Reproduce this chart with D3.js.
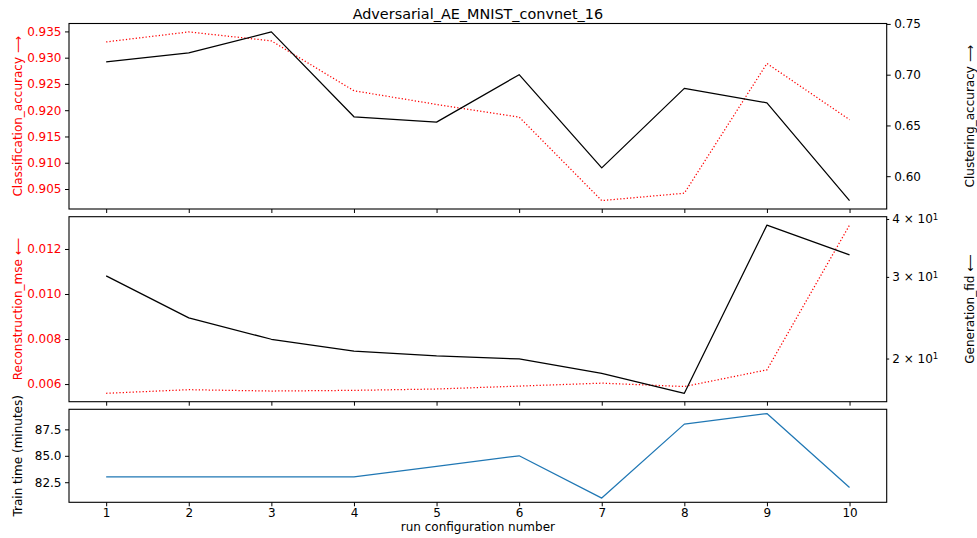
<!DOCTYPE html>
<html>
<head>
<meta charset="utf-8">
<script src="https://cdn.jsdelivr.net/npm/d3@7"></script>
<style>
  html, body { margin: 0; padding: 0; background: #fff; }
  svg { display: block; font-family: "DejaVu Sans", sans-serif; }
</style>
</head>
<body>
<svg id="chart" width="977" height="538"></svg>
<script>
// ---------------- data ----------------
const runNumbers = [1, 2, 3, 4, 5, 6, 7, 8, 9, 10];
const classificationAccuracy = [0.9330, 0.9349, 0.9332, 0.9237, 0.9211, 0.9187, 0.9028, 0.9042, 0.9289, 0.9182];
const clusteringAccuracy = [0.7125, 0.7214, 0.7421, 0.6585, 0.6533, 0.7000, 0.6082, 0.6865, 0.6723, 0.5760];
const reconstructionMse = [0.00559, 0.00575, 0.00569, 0.00572, 0.00578, 0.00591, 0.00604, 0.00589, 0.00663, 0.01306];
const generationFid = [30.15, 24.48, 22.01, 20.76, 20.26, 19.96, 18.58, 16.83, 38.8, 33.47];
const trainTime = [83, 83, 83, 83, 84, 85, 81, 88, 89, 82];

const xTicks = [1, 2, 3, 4, 5, 6, 7, 8, 9, 10];
const classTicks = [0.905, 0.910, 0.915, 0.920, 0.925, 0.930, 0.935];
const clusterTicks = [0.60, 0.65, 0.70, 0.75];
const mseTicks = [0.006, 0.008, 0.010, 0.012];
const fidTicks = [20, 30, 40];
const timeTicks = [82.5, 85.0, 87.5];

const titleText = "Adversarial_AE_MNIST_convnet_16";
const xLabelText = "run configuration number";

// ---------------- layout ----------------
const svg = d3.select("#chart");
const left = 69, right = 886.7;
const panels = [
  { top: 23.5, bottom: 209 },
  { top: 216.7, bottom: 401.7 },
  { top: 409.3, bottom: 502.3 }
];
const FS = 12;
const RED = "#ff0000";

function padDomain(vals) {
  const mn = d3.min(vals), mx = d3.max(vals), r = mx - mn;
  return [mn - 0.05 * r, mx + 0.05 * r];
}
function padLogDomain(vals) {
  const lv = vals.map(Math.log10);
  const [a, b] = padDomain(lv);
  return [Math.pow(10, a), Math.pow(10, b)];
}

const x = d3.scaleLinear().domain(padDomain(runNumbers)).range([left, right]);

const yClass = d3.scaleLinear().domain(padDomain(classificationAccuracy)).range([panels[0].bottom, panels[0].top]);
const yCluster = d3.scaleLinear().domain(padDomain(clusteringAccuracy)).range([panels[0].bottom, panels[0].top]);
const yMse = d3.scaleLinear().domain(padDomain(reconstructionMse)).range([panels[1].bottom, panels[1].top]);
const yFid = d3.scaleLog().domain(padLogDomain(generationFid)).range([panels[1].bottom, panels[1].top]);
const yTime = d3.scaleLinear().domain(padDomain(trainTime)).range([panels[2].bottom, panels[2].top]);

function styleAxis(g, labelColor) {
  g.select(".domain").remove();
  g.selectAll(".tick line").attr("stroke", "#000").attr("stroke-width", 1);
  g.selectAll(".tick text").attr("fill", labelColor).attr("font-size", FS).attr("font-family", "DejaVu Sans");
}

// ---------------- series lines ----------------
function drawLine(values, yScale, color, dashed, width) {
  const line = d3.line().x((d, i) => x(runNumbers[i])).y(d => yScale(d));
  svg.append("path")
    .datum(values)
    .attr("d", line)
    .attr("fill", "none")
    .attr("stroke", color)
    .attr("stroke-width", width)
    .attr("stroke-linejoin", "round")
    .attr("stroke-dasharray", dashed ? "1.25,2.06" : null);
}

// Panel 1
drawLine(classificationAccuracy, yClass, RED, true, 1.25);
drawLine(clusteringAccuracy, yCluster, "#000", false, 1.25);
// Panel 2
drawLine(reconstructionMse, yMse, RED, true, 1.25);
drawLine(generationFid, yFid, "#000", false, 1.25);
// Panel 3
drawLine(trainTime, yTime, "#1f77b4", false, 1.25);

// ---------------- spines ----------------
panels.forEach(p => {
  svg.append("rect")
    .attr("x", left).attr("y", p.top)
    .attr("width", right - left).attr("height", p.bottom - p.top)
    .attr("fill", "none").attr("stroke", "#000").attr("stroke-width", 1.1);
});

// ---------------- axes ----------------
// x axes (ticks in all panels, labels only on the bottom)
panels.forEach((p, i) => {
  const ax = d3.axisBottom(x).tickValues(xTicks).tickSize(4).tickSizeOuter(0).tickPadding(2.5)
    .tickFormat(i === 2 ? d3.format("d") : () => "");
  const g = svg.append("g").attr("transform", `translate(0,${p.bottom})`).call(ax);
  styleAxis(g, "#000");
});

// Panel 1 axes
styleAxis(svg.append("g").attr("transform", `translate(${left},0)`)
  .call(d3.axisLeft(yClass).tickValues(classTicks).tickFormat(d3.format(".3f")).tickSize(4).tickPadding(3.5)), RED);
styleAxis(svg.append("g").attr("transform", `translate(${right},0)`)
  .call(d3.axisRight(yCluster).tickValues(clusterTicks).tickFormat(d3.format(".2f")).tickSize(4).tickPadding(3.5)), "#000");

// Panel 2 axes
styleAxis(svg.append("g").attr("transform", `translate(${left},0)`)
  .call(d3.axisLeft(yMse).tickValues(mseTicks).tickFormat(d3.format(".3f")).tickSize(4).tickPadding(3.5)), RED);
const gFid = svg.append("g").attr("transform", `translate(${right},0)`)
  .call(d3.axisRight(yFid).tickValues(fidTicks).tickFormat(d => String(d)).tickSize(2.5).tickPadding(3));
styleAxis(gFid, "#000");
gFid.selectAll(".tick text").each(function (d) {
  const e = Math.floor(Math.log10(d));
  const m = Math.round(d / Math.pow(10, e));
  const t = d3.select(this);
  t.text(null);
  t.append("tspan").text(`${m} × 10`);
  t.append("tspan").attr("dy", "-0.42em").attr("font-size", "0.72em").text(String(e));
});

// Panel 3 axis
styleAxis(svg.append("g").attr("transform", `translate(${left},0)`)
  .call(d3.axisLeft(yTime).tickValues(timeTicks).tickFormat(d3.format(".1f")).tickSize(4).tickPadding(3.5)), "#000");

// ---------------- labels ----------------
function vLabel(text, cx, cy, color) {
  svg.append("text")
    .attr("transform", `translate(${cx},${cy}) rotate(-90)`)
    .attr("text-anchor", "middle")
    .attr("dominant-baseline", "central")
    .attr("font-size", FS)
    .attr("fill", color)
    .text(text);
}
const mid = p => (p.top + p.bottom) / 2;
vLabel("Classification_accuracy \u27F6", 17.5, mid(panels[0]), RED);
vLabel("Reconstruction_mse \u27F5", 17.5, mid(panels[1]), RED);
vLabel("Train time (minutes)", 17.5, mid(panels[2]), "#000");
vLabel("Clustering_accuracy \u27F6", 970, mid(panels[0]), "#000");
vLabel("Generation_fid \u27F5", 970, mid(panels[1]), "#000");

svg.append("text")
  .attr("x", (left + right) / 2).attr("y", 19.3)
  .attr("text-anchor", "middle").attr("font-size", 14.4).attr("fill", "#000")
  .text(titleText);

svg.append("text")
  .attr("x", (left + right) / 2).attr("y", 530.5)
  .attr("text-anchor", "middle").attr("font-size", FS).attr("fill", "#000")
  .text(xLabelText);
</script>
</body>
</html>
